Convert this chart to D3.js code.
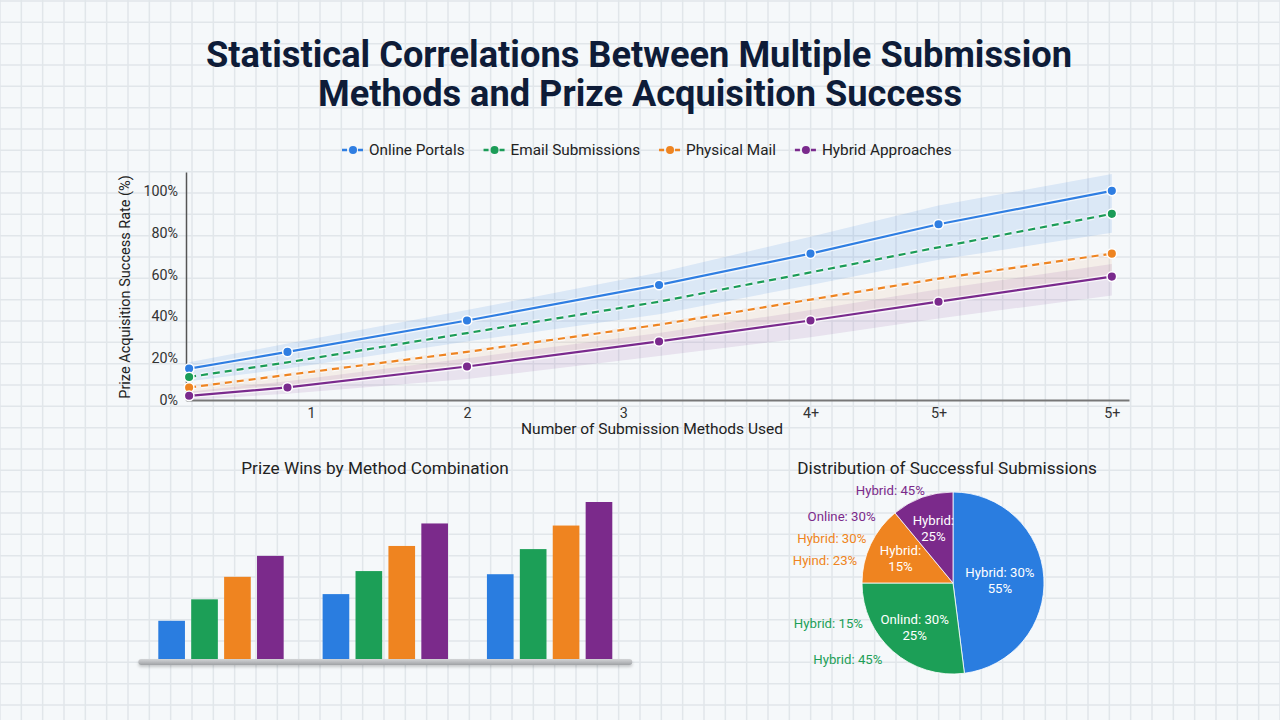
<!DOCTYPE html>
<html>
<head>
<meta charset="utf-8">
<script src="https://cdn.jsdelivr.net/npm/d3@7"></script>
<style>
html, body { margin: 0; padding: 0; background: #f5f8fa; }
svg { display: block; font-family: Roboto, "Noto Sans", sans-serif; }
</style>
</head>
<body>
<svg id="chart" width="1280" height="720"></svg>
<script>
// ---- data ----
const seriesNames = ['Online Portals', 'Email Submissions', 'Physical Mail', 'Hybrid Approaches'];
const methodX = [0.22, 0.85, 2.0, 3.23, 4.2, 5.02, 6.13];
const xTickValues = [1, 2, 3, 4.2, 5.02, 6.13];
const xTickLabels = ['1', '2', '3', '4+', '5+', '5+'];
const yTickValues = [0, 20, 40, 60, 80, 100];

const onlineRate = [15, 23, 38, 55, 70, 84, 100];
const emailRate = [11, 18, 32, 47, 61, 73, 89];
const mailRate = [6, 12, 23, 36, 48, 58, 70];
const hybridRate = [2, 6, 16, 28, 38, 47, 59];

const onlineBandHigh = [18, 27, 43, 61, 78, 93, 108];
const onlineBandLow = [9, 15, 28, 41, 55, 67, 80];
const mailBandHigh = [7, 13, 24, 37, 49, 59, 71];
const mailBandLow = [2, 6, 16, 28, 38, 47, 59];
const hybridBandHigh = [4, 9, 20, 32, 43, 53, 65];
const hybridBandLow = [0, 3, 10, 21, 30, 39, 50];

const barGroups = ['Group A', 'Group B', 'Group C'];
const barOnline = [7.3, 12.4, 16.2];
const barEmail = [11.4, 16.8, 21.0];
const barMail = [15.7, 21.6, 25.5];
const barHybrid = [19.7, 25.9, 30.0];

const pieShares = [48, 27, 14, 11];
const pieInsideTop = ['Hybrid: 30%', 'Onlind: 30%', 'Hybrid:', 'Hybrid:'];
const pieInsideBottom = ['55%', '25%', '15%', '25%'];
const pieOuterText = ['Hybrid: 45%', 'Online: 30%', 'Hybrid: 30%', 'Hyind: 23%', 'Hybrid: 15%', 'Hybrid: 45%'];
const pieOuterSeries = [3, 3, 2, 2, 1, 1];

// ---- styles ----
const lineColors = ['#2f7ee2', '#1b9c57', '#ee8421', '#7a2a8d'];
const fillColors = ['#2a7de0', '#1c9f57', '#ef8420', '#7b2a8b'];
const dashes = [null, '7,5', '7,5', null];
const dotsAt = ['all', 'ends', 'ends', 'all'];

let width = 1280;
let height = 720;
let svg = d3.select('#chart');

function drawGrid() {
    svg.append('rect').attr('width', width).attr('height', height).attr('fill', '#f5f8fa');
    let step = 1280 / 60;
    let g = svg.append('g').attr('stroke', '#e1e6ea').attr('stroke-width', 1.5);
    d3.range(0, width + 1, step).forEach(x => {
        g.append('line').attr('x1', x).attr('x2', x).attr('y1', 0).attr('y2', height);
    });
    d3.range(1, height + 1, step).forEach(y => {
        g.append('line').attr('x1', 0).attr('x2', width).attr('y1', y).attr('y2', y);
    });
}

function drawTitle() {
    let t = svg.append('g')
        .attr('font-weight', 700)
        .attr('fill', '#0e1c38')
        .attr('font-size', 36)
        .attr('text-anchor', 'middle');
    t.append('text').attr('x', 639).attr('y', 67)
        .attr('textLength', 866).attr('lengthAdjust', 'spacingAndGlyphs')
        .text('Statistical Correlations Between Multiple Submission');
    t.append('text').attr('x', 640).attr('y', 106)
        .attr('textLength', 644).attr('lengthAdjust', 'spacingAndGlyphs')
        .text('Methods and Prize Acquisition Success');
}

// ---- line chart ----
let xScale = d3.scaleLinear().domain([0.2, 6.24]).range([186, 1129]);
let yScale = d3.scaleLinear().domain([0, 109]).range([400, 172]);

function drawLegend() {
    let g = svg.append('g').attr('font-size', 15.3).attr('fill', '#222');
    let x = 342;
    seriesNames.forEach((name, i) => {
        let item = g.append('g').attr('transform', 'translate(' + x + ',150)');
        item.append('line').attr('x1', 0).attr('x2', 22).attr('y1', 0).attr('y2', 0)
            .attr('stroke', lineColors[i]).attr('stroke-width', 2.5).attr('stroke-dasharray', '5,3');
        item.append('circle').attr('cx', 11).attr('cy', 0).attr('r', 4).attr('fill', lineColors[i]);
        let txt = item.append('text').attr('x', 27).attr('y', 5.3).text(name);
        x += 27 + txt.node().getComputedTextLength() + 19;
    });
}

function drawBands() {
    let area = (hi, lo) => d3.area()
        .x((d, i) => xScale(methodX[i]))
        .y0((d, i) => yScale(lo[i]))
        .y1((d, i) => yScale(hi[i]));
    svg.append('path').attr('d', area(onlineBandHigh, onlineBandLow)(methodX))
        .attr('fill', lineColors[0]).attr('fill-opacity', 0.13);
    svg.append('path').attr('d', area(mailBandHigh, mailBandLow)(methodX))
        .attr('fill', lineColors[2]).attr('fill-opacity', 0.08);
    svg.append('path').attr('d', area(hybridBandHigh, hybridBandLow)(methodX))
        .attr('fill', lineColors[3]).attr('fill-opacity', 0.1);
}

function drawAxes() {
    let yAxis = d3.axisLeft(yScale).tickValues(yTickValues).tickSize(0).tickPadding(8)
        .tickFormat(d => d + '%');
    let ya = svg.append('g').attr('transform', 'translate(186,0)').call(yAxis);
    ya.select('.domain').attr('stroke', '#555').attr('stroke-width', 1.5);
    ya.selectAll('text').attr('font-size', 14.3).attr('fill', '#333')
        .attr('font-family', 'Roboto, sans-serif');

    let xAxis = d3.axisBottom(xScale).tickValues(xTickValues).tickSize(0).tickPadding(8)
        .tickFormat((d, i) => xTickLabels[i]);
    let xa = svg.append('g').attr('transform', 'translate(0,400)').call(xAxis);
    xa.select('.domain').attr('stroke', '#777').attr('stroke-width', 2);
    xa.selectAll('text').attr('font-size', 14.3).attr('fill', '#333')
        .attr('font-family', 'Roboto, sans-serif');

    svg.append('text').attr('x', 652).attr('y', 434).attr('text-anchor', 'middle')
        .attr('font-size', 15.5).attr('fill', '#222')
        .text('Number of Submission Methods Used');
    svg.append('text').attr('transform', 'translate(130,287) rotate(-90)')
        .attr('text-anchor', 'middle').attr('font-size', 14.5).attr('fill', '#222')
        .text('Prize Acquisition Success Rate (%)');
}

function drawLines() {
    let all = [onlineRate, emailRate, mailRate, hybridRate];
    let line = d3.line().x((d, i) => xScale(methodX[i])).y(d => yScale(d));
    all.forEach((vals, s) => {
        svg.append('path').attr('d', line(vals)).attr('fill', 'none')
            .attr('stroke', '#fff').attr('stroke-opacity', 0.7).attr('stroke-width', 5)
            .attr('stroke-dasharray', dashes[s]);
        svg.append('path').attr('d', line(vals)).attr('fill', 'none')
            .attr('stroke', lineColors[s]).attr('stroke-width', 2.2)
            .attr('stroke-dasharray', dashes[s]);
    });
    all.forEach((vals, s) => {
        let pts = vals.map((v, i) => ({v: v, i: i}))
            .filter(p => dotsAt[s] === 'all' || p.i === 0 || p.i === vals.length - 1);
        svg.selectAll(null).data(pts).enter().append('circle')
            .attr('cx', p => xScale(methodX[p.i]))
            .attr('cy', p => yScale(p.v))
            .attr('r', 4.8)
            .attr('fill', lineColors[s])
            .attr('stroke', '#fff').attr('stroke-width', 1.5);
    });
}

// ---- grouped bars ----
function drawBars() {
    svg.append('text').attr('x', 375).attr('y', 474).attr('text-anchor', 'middle')
        .attr('font-size', 17.2).attr('fill', '#222').text('Prize Wins by Method Combination');
    let x0 = d3.scaleBand().domain(barGroups).range([158.3, 612.3]).paddingInner(0.237);
    let x1 = d3.scaleBand().domain(seriesNames).range([0, x0.bandwidth()]).paddingInner(0.19);
    let y = d3.scaleLinear().domain([0, 30]).range([659, 502]);
    let cols = [barOnline, barEmail, barMail, barHybrid];

    let defs = svg.append('defs');
    let grad = defs.append('linearGradient').attr('id', 'plat').attr('x1', 0).attr('x2', 0).attr('y1', 0).attr('y2', 1);
    grad.append('stop').attr('offset', '0%').attr('stop-color', '#d3d5d7');
    grad.append('stop').attr('offset', '100%').attr('stop-color', '#9fa2a5');
    let sh = defs.append('filter').attr('id', 'sh').attr('x', '-5%').attr('y', '-100%').attr('width', '110%').attr('height', '400%');
    sh.append('feDropShadow').attr('dx', 0).attr('dy', 2).attr('stdDeviation', 1.5)
        .attr('flood-color', '#000').attr('flood-opacity', 0.2);

    barGroups.forEach((g, gi) => {
        svg.selectAll(null).data(seriesNames).enter().append('rect')
            .attr('x', s => x0(g) + x1(s))
            .attr('width', x1.bandwidth())
            .attr('y', (s, si) => y(cols[si][gi]))
            .attr('height', (s, si) => y(0) - y(cols[si][gi]))
            .attr('fill', (s, si) => fillColors[si]);
    });
    let r = x0.range();
    svg.append('rect').attr('x', r[0] - 20).attr('width', r[1] - r[0] + 40)
        .attr('y', y(0)).attr('height', 6).attr('rx', 3)
        .attr('fill', 'url(#plat)').attr('filter', 'url(#sh)');
}

// ---- pie ----
function drawPie() {
    let cx = 953, cy = 583, R = 91;
    svg.append('text').attr('x', 947).attr('y', 474).attr('text-anchor', 'middle')
        .attr('font-size', 17.2).attr('fill', '#222').text('Distribution of Successful Submissions');
    let g = svg.append('g').attr('transform', 'translate(' + cx + ',' + cy + ')');
    let arcs = d3.pie().sort(null).value(d => d)(pieShares);
    let arc = d3.arc().innerRadius(0).outerRadius(R);
    g.selectAll(null).data(arcs).enter().append('path')
        .attr('d', arc)
        .attr('fill', (d, i) => fillColors[i])
        .attr('stroke', '#fff').attr('stroke-width', 0.8);

    arcs.forEach((d, i) => {
        let mid = (d.startAngle + d.endAngle) / 2;
        let rr = i === 0 ? 47 : 58;
        let lx = rr * Math.sin(mid), ly = -rr * Math.cos(mid);
        let t = g.append('text').attr('text-anchor', 'middle').attr('fill', '#fff').attr('font-size', 13.2);
        t.append('tspan').attr('x', lx).attr('y', ly - 3).text(pieInsideTop[i]);
        t.append('tspan').attr('x', lx).attr('y', ly + 13).text(pieInsideBottom[i]);
    });

    let outAngle = [326, 301, 290, 280, 252, 234];
    let outRadius = [112, 130, 129, 130, 131, 130];
    pieOuterText.forEach((txt, i) => {
        let a = outAngle[i] * Math.PI / 180;
        g.append('text')
            .attr('x', outRadius[i] * Math.sin(a))
            .attr('y', -outRadius[i] * Math.cos(a) + 4.5)
            .attr('text-anchor', 'middle').attr('font-size', 13.2)
            .attr('fill', fillColors[pieOuterSeries[i]])
            .text(txt);
    });
}

drawGrid();
drawTitle();
drawLegend();
drawBands();
drawAxes();
drawLines();
drawBars();
drawPie();
</script>
</body>
</html>
